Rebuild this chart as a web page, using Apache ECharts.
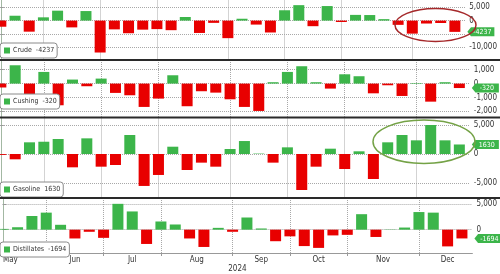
<!DOCTYPE html>
<html>
<head>
<meta charset="utf-8">
<script src="https://cdn.jsdelivr.net/npm/echarts@6/dist/echarts.min.js"></script>
<style>
html,body{margin:0;padding:0;background:#fff;}
#chart{width:500px;height:274px;}
</style>
</head>
<body>
<div id="chart"></div>
<script>
// Weekly EIA inventory changes (thousand barrels), week ending dates
const weeks = ['2024-05-10','2024-05-17','2024-05-24','2024-05-31','2024-06-07','2024-06-14','2024-06-21','2024-06-28',
  '2024-07-05','2024-07-12','2024-07-19','2024-07-26','2024-08-02','2024-08-09','2024-08-16','2024-08-23','2024-08-30',
  '2024-09-06','2024-09-13','2024-09-20','2024-09-27','2024-10-04','2024-10-11','2024-10-18','2024-10-25',
  '2024-11-01','2024-11-08','2024-11-15','2024-11-22','2024-11-29','2024-12-06','2024-12-13','2024-12-20'];

const crude = [-2300, 1830, -4160, 1230, 3730, -2550, 3590, -12000, -3300, -4750, -3400, -3200, -3600, 1360, -4650, -850, -6600,
  700, -1500, -4470, 3890, 5810, -2100, 5470, -520, 2150, 2090, 550, -1600, -4900, -1100, -900, -4237];
const cushing = [-280, 1320, -790, 840, -1560, 290, -190, 360, -670, -840, -1680, -1080, 600, -1630, -550, -650, -1130,
  -1680, -1970, 100, 840, 1250, 100, -360, 670, 530, -700, -120, -890, 40, -1300, 100, -320];
const gasoline = [-150, -910, 2000, 2100, 2570, -2280, 2680, -2170, -1880, 3250, -5470, -3590, 1250, -2740, -1480, -2170, 860,
  2220, 70, -1480, 1140, -6160, -2170, 910, -2570, 460, -4280, 2000, 3250, 2340, 4960, 2340, 1630];
const distillates = [150, 470, 2640, 3290, 940, -1700, -410, -1580, 4990, 3520, -2760, 1580, 1000, -1700, -3340, 350, -410,
  2350, 230, -2230, -1290, -3170, -3520, -1110, -1000, 2990, -1410, 50, 410, 3400, 3290, -3230, -1694];

const seriesNames = ['Crude', 'Cushing', 'Gasoline', 'Distillates'];
const monthTickIdx = [3, 7, 11, 16, 20, 24, 29];
const monthLabels = ['May', 'Jun', 'Jul', 'Aug', 'Sep', 'Oct', 'Nov', 'Dec'];
const monthLabelPos = [0.5, 5, 9, 13.5, 18, 22, 26.5, 31];
const yearLabel = '2024';
const yTicks = [[-10000, -5000, 0, 5000], [-2000, -1000, 0, 1000], [-5000, 0, 5000], [0, 5000]];
const yLabelTicks = [[-10000, 0, 5000], [-2000, -1000, 0, 1000], [-5000, 0, 5000], [0, 5000]];
const yRanges = [[-14626, 7746], [-2405, 1663], [-7447, 6163], [-4506, 6019]];

const GREEN = '#3cb54a';
const RED = '#e80000';
const FONT = "'Liberation Sans Narrow', 'Arial Narrow', 'DejaVu Sans Condensed', 'Liberation Sans', sans-serif";
const allData = [crude, cushing, gasoline, distillates];

const grids = [
  {left: 0, right: 26, top: 0, height: 59.5},
  {left: 0, right: 26, top: 60.5, height: 56.5},
  {left: 0, right: 26, top: 118, height: 79.5},
  {left: 0, right: 26, top: 198.5, height: 59.8}
];
const legendTops = [43, 94, 182, 242];

const xMin = -0.059, xMax = 32.73;
const gridLineStyle = {color: '#a8a8a8', type: 'dotted', width: 1};

const xAxes = grids.map((g, i) => {
  const bottom = i === 3;
  return {
    type: 'value', gridIndex: i, min: xMin, max: xMax,
    axisLine: {show: bottom, onZero: false, lineStyle: {color: '#999', width: 1}},
    axisTick: {show: bottom, length: 3, customValues: monthTickIdx, lineStyle: {color: '#999'}},
    axisLabel: {show: bottom, customValues: monthLabelPos, margin: 3, fontSize: 8, color: '#333', fontFamily: FONT,
      formatter: v => { const k = monthLabelPos.indexOf(v); return k >= 0 ? monthLabels[k] : ''; }},
    splitLine: {show: false},
    name: bottom ? yearLabel : '', nameLocation: 'middle', nameGap: 12,
    nameTextStyle: {fontSize: 8, color: '#333', fontFamily: FONT}
  };
});

const yAxes = grids.map((g, i) => ({
  type: 'value', gridIndex: i, position: 'right', min: yRanges[i][0], max: yRanges[i][1],
  axisLine: {show: true, lineStyle: {color: '#a3b8a3', width: 1}},
  axisTick: {show: true, length: 3, customValues: yTicks[i], lineStyle: {color: '#999'}},
  axisLabel: {customValues: yLabelTicks[i], margin: 4, fontSize: 8, color: '#333', fontFamily: FONT},
  splitLine: {show: true, customValues: yTicks[i], lineStyle: gridLineStyle}
}));

const tagPath = 'path://M0,5L4,0L30,0L30,10L4,10Z';

const series = allData.map((vals, i) => {
  const last = vals.length - 1;
  return {
    name: seriesNames[i], type: 'bar', xAxisIndex: i, yAxisIndex: i,
    barWidth: 11, clip: true, z: 3,
    data: vals.map((v, k) => [k, v]),
    itemStyle: {color: p => (p.value[1] >= 0 ? GREEN : RED)},
    emphasis: {disabled: true},
    markLine: {
      silent: true, animation: false, z: 1, symbol: ['none', 'none'],
      label: {show: false},
      lineStyle: gridLineStyle,
      data: monthTickIdx.map(v => ({xAxis: v}))
    },
    markPoint: {
      silent: true, animation: false, z: 10,
      symbol: tagPath, symbolSize: [27, 9], symbolKeepAspect: false, symbolOffset: [26, 0],
      itemStyle: {color: GREEN},
      label: {show: true, position: 'inside', color: '#fff', fontSize: 7, fontFamily: FONT,
        formatter: p => String(p.value), offset: [1.5, 0.5]},
      data: [{coord: [last, vals[last]], value: vals[last]}]
    }
  };
});

const legends = seriesNames.map((n, i) => ({
  show: true, left: 0, top: legendTops[i], orient: 'horizontal',
  data: [{name: n, itemStyle: {color: GREEN}}],
  icon: 'rect', itemWidth: 6, itemHeight: 6, itemGap: 3,
  padding: [4, 3, 4, 4], backgroundColor: '#fff', borderColor: '#8a8a8a', borderWidth: 1, borderRadius: 3,
  selectedMode: false,
  textStyle: {fontSize: 7, color: '#333', fontFamily: FONT, padding: [0, 0, 0, -2]},
  formatter: name => { const d = allData[seriesNames.indexOf(name)]; return name + '  ' + d[d.length - 1]; }
}));

const chart = echarts.init(document.getElementById('chart'), null, {renderer: 'canvas'});
chart.setOption({
  animation: false,
  backgroundColor: '#fff',
  grid: grids,
  xAxis: xAxes,
  yAxis: yAxes,
  legend: legends,
  series: series,
  graphic: [
    {type: 'line', z: 50, silent: true, shape: {x1: 0, y1: 60, x2: 500, y2: 60}, style: {stroke: '#2a2a2a', lineWidth: 1.8}},
    {type: 'line', z: 50, silent: true, shape: {x1: 0, y1: 117.5, x2: 500, y2: 117.5}, style: {stroke: '#2a2a2a', lineWidth: 1.8}},
    {type: 'line', z: 50, silent: true, shape: {x1: 0, y1: 198, x2: 500, y2: 198}, style: {stroke: '#2a2a2a', lineWidth: 1.8}},
    {type: 'ellipse', z: 60, silent: true, shape: {cx: 435.5, cy: 25, rx: 40.5, ry: 16.5}, style: {fill: 'none', stroke: '#a5282a', lineWidth: 1.5}},
    {type: 'ellipse', z: 60, silent: true, shape: {cx: 424, cy: 141.7, rx: 51, ry: 21.7}, style: {fill: 'none', stroke: '#74a246', lineWidth: 1.5}}
  ]
});
</script>
</body>
</html>
